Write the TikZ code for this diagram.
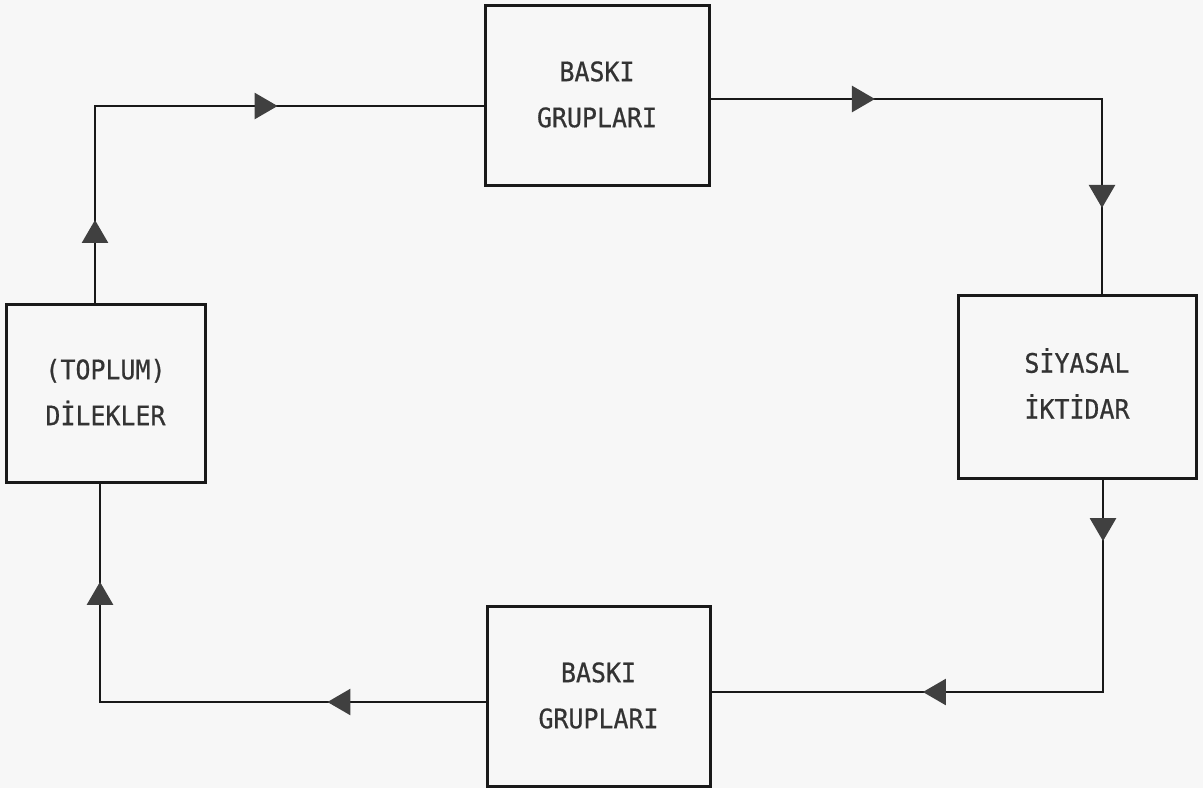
\documentclass[tikz,border=0pt]{standalone}
\usepackage{fontspec}
\setmonofont[FakeStretch=0.93, FakeBold=0.6]{DejaVu Sans Mono}
\usetikzlibrary{positioning, shapes, arrows.meta, decorations.markings}

\newcommand{\ikisatir}[3][0pt]{\raisebox{#1}{\begin{tabular}{@{}c@{}}#2\\#3\end{tabular}}}

\tikzset{
	kutu/.style={draw=black!90, line width=1.5pt, rectangle, inner sep=0pt,
		font=\ttfamily\fontsize{13.4}{23}\selectfont, text=black!80},
	hat/.style={draw=black!90, line width=1.3pt, line cap=rect},
	ok/.style={postaction={decorate}, decoration={markings,
		mark=at position #1 with {\arrow{Triangle[length=11.5pt, width=13pt, color=black!75]}}}}
}

\begin{document}
\begin{tikzpicture}[x=0.5pt, y=-0.5pt]

			% Arkaplan
			\path[use as bounding box, fill=white!97!black] (0,0) rectangle (1203,788);

			% Kutular
			\node (bg1) [kutu, minimum width=112pt, minimum height=90pt] at (597,95) {\ikisatir[2.5pt]{BASKI}{GRUPLARI}};
			\node (dil) [kutu, minimum width=99.5pt, minimum height=89pt] at (105.5,393) {\ikisatir[-2.5pt]{(TOPLUM)}{DİLEKLER}};
			\node (iktidar) [kutu, minimum width=119pt, minimum height=91.5pt] at (1077,386.5) {\ikisatir[-1pt]{SİYASAL}{İKTİDAR}};
			\node (bg2) [kutu, minimum width=111.5pt, minimum height=90pt] at (598.5,696) {\ikisatir[4.5pt]{BASKI}{GRUPLARI}};

			% Kose noktalari
			\coordinate (k1) at (95,106);
			\coordinate (k2) at (1102,99);
			\coordinate (k3) at (1103,692);
			\coordinate (k4) at (100,702);

			% Oklar
			\draw[hat, ok=0.42] (dil.north -| k1) -- (k1);
			\draw[hat, ok=0.47] (k1) -- (bg1.west |- k1);
			\draw[hat, ok=0.42] (bg1.east |- k2) -- (k2);
			\draw[hat, ok=0.56] (k2) -- (iktidar.north -| k2);
			\draw[hat, ok=0.29] (iktidar.south -| k3) -- (k3);
			\draw[hat, ok=0.46] (k3) -- (bg2.east |- k3);
			\draw[hat, ok=0.41] (bg2.west |- k4) -- (k4);
			\draw[hat, ok=0.55] (k4) -- (dil.south -| k4);

		\end{tikzpicture}
\end{document}
